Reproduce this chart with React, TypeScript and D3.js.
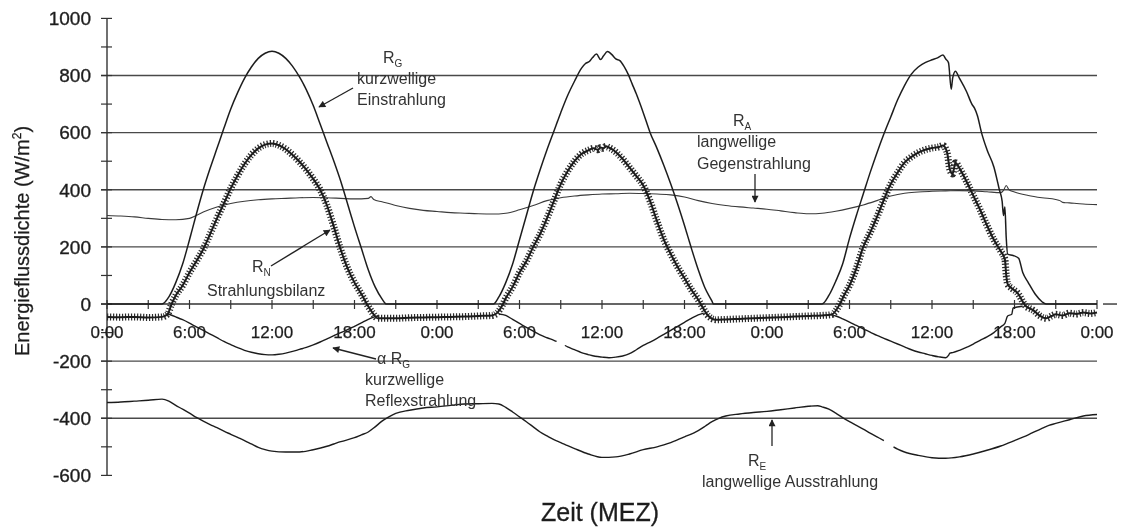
import React from 'react';
import * as d3 from 'd3';

type Pt = [number, number | null];

// hours since start (3 days), values in W/m²
const X_TICK_HOURS = [0, 6, 12, 18, 24, 30, 36, 42, 48, 54, 60, 66, 72];
const X_TICK_LABELS = ['0:00', '6:00', '12:00', '18:00', '0:00', '6:00', '12:00', '18:00', '0:00', '6:00', '12:00', '18:00', '0:00'];
const Y_TICK_VALUES = [1000, 800, 600, 400, 200, 0, -200, -400, -600];
const GRID_VALUES = [800, 600, 400, 200, -200, -400];

// R_G kurzwellige Einstrahlung
const RG: Pt[] = [
  [0, 0], [4, 0], [4.5, 25], [5, 75], [5.5, 140], [6, 225], [6.5, 315], [7, 400], [7.5, 475], [8, 545], [8.5, 615],
  [9, 683], [9.5, 740], [10, 790], [10.5, 830], [11, 860], [11.5, 878], [12, 885], [12.5, 878], [13, 860], [13.5, 832],
  [14, 795], [14.5, 750], [15, 695], [15.5, 630], [16, 565], [16.5, 500], [17, 430], [17.5, 350], [18, 270], [18.5, 195],
  [19, 120], [19.5, 60], [20, 18], [20.3, 0],
  [28.1, 0], [28.5, 25], [29, 75], [29.5, 140], [30, 225], [30.5, 310], [31, 395], [31.5, 470], [32, 540], [32.5, 605],
  [33, 670], [33.5, 730], [34, 780], [34.5, 825], [34.8, 842], [35.1, 850], [35.3, 862], [35.6, 875], [35.9, 856],
  [36.1, 868], [36.4, 884], [36.7, 874], [37, 858], [37.3, 852], [37.6, 832], [37.9, 805], [38.2, 770], [38.5, 735],
  [39, 670], [39.5, 600], [40, 545], [40.5, 485], [41, 420], [41.5, 350], [42, 275], [42.5, 195], [43, 120], [43.5, 55],
  [44, 10], [44.1, 0],
  [52, 0], [52.5, 30], [53, 80], [53.5, 140], [54, 230], [54.5, 310], [55, 385], [55.5, 460], [56, 530], [56.5, 595],
  [57, 655], [57.5, 715], [58, 765], [58.5, 805], [59, 830], [59.5, 845], [60, 855], [60.4, 862], [60.8, 872], [61, 858],
  [61.2, 845], [61.4, 752], [61.5, 790], [61.7, 815], [62, 790], [62.5, 745], [62.9, 700], [63.1, 685], [63.3, 660],
  [63.6, 600], [64, 540], [64.5, 480], [64.9, 400], [65.1, 360], [65.2, 310], [65.3, 340], [65.4, 230], [65.5, 175],
  [65.9, 170], [66.3, 160], [66.6, 110], [67, 75], [67.5, 35], [68, 8], [68.3, 0], [72, 0],
];

// R_N Strahlungsbilanz
const RN: Pt[] = [
  [0, -45], [1, -46], [2, -45], [3, -47], [4, -45], [4.4, -36], [4.7, 0], [5, 30], [5.5, 65], [6, 110], [6.5, 150],
  [7, 192], [7.5, 245], [8, 300], [8.5, 352], [9, 405], [9.5, 450], [10, 490], [10.5, 522], [11, 545], [11.5, 558],
  [12, 562], [12.5, 556], [13, 542], [13.5, 522], [14, 498], [14.5, 470], [15, 438], [15.5, 400], [16, 345], [16.5, 270],
  [17, 190], [17.5, 125], [18, 75], [18.5, 35], [18.9, 0], [19.3, -30], [19.7, -50],
  [21, -50], [22, -48], [23, -47], [24, -46], [25, -45], [26, -44], [27, -42], [28, -40], [28.4, -30], [28.8, 0],
  [29, 20], [29.5, 60], [30, 110], [30.5, 150], [31, 200], [31.5, 245], [32, 300], [32.5, 360], [33, 420], [33.5, 465],
  [34, 500], [34.5, 525], [35, 538], [35.4, 545], [35.7, 540], [35.9, 548], [36.1, 545], [36.3, 552], [36.5, 548],
  [36.8, 540], [37.1, 528], [37.5, 508], [38, 478], [38.5, 448], [39, 415], [39.5, 360], [40, 290], [40.5, 225],
  [41, 175], [41.5, 130], [42, 90], [42.5, 50], [43, 15], [43.3, -10], [43.7, -40], [44.3, -55],
  [45, -54], [46, -52], [47, -50], [48, -48], [49, -46], [50, -44], [51, -42], [52, -40], [52.7, -37], [53.3, 0],
  [53.6, 30], [54, 65], [54.5, 125], [55, 200], [55.5, 250], [56, 305], [56.5, 365], [56.8, 400], [57, 420], [57.5, 460],
  [58, 495], [58.5, 515], [59, 530], [59.5, 540], [60, 546], [60.5, 550], [60.8, 555], [61.1, 530], [61.3, 470],
  [61.5, 455], [61.7, 495], [62, 475], [62.5, 430], [63, 380], [63.5, 330], [64, 275], [64.5, 225], [65, 185],
  [65.3, 157], [65.4, 100], [65.5, 70], [65.8, 55], [66.2, 40], [66.8, -6], [67.4, -23], [67.8, -40], [68.3, -50],
  [68.7, -42], [69, -36], [69.5, -40], [70, -32], [70.5, -35], [71, -30], [71.5, -33], [72, -30],
];

// R_A langwellige Gegenstrahlung
const RA: Pt[] = [
  [0, 310], [1, 308], [2, 305], [3, 300], [4, 296], [5, 295], [6, 300], [6.5, 310], [7, 322], [8, 340], [9, 352],
  [10, 360], [11, 365], [12, 368], [13, 370], [14, 372], [15, 373], [16, 372], [17, 370], [18, 368], [19, 370],
  [19.2, 376], [19.4, 366], [20, 358], [21, 345], [22, 335], [23, 328], [24, 324], [25, 320], [26, 318], [27, 316],
  [28, 315], [29, 318], [30, 330], [31, 345], [32, 362], [33, 372], [34, 378], [35, 382], [36, 385], [37, 386],
  [38, 388], [39, 387], [40, 385], [41, 382], [42, 375], [43, 362], [44, 352], [45, 345], [46, 340], [47, 336],
  [48, 332], [49, 326], [50, 320], [51, 316], [52, 318], [53, 325], [54, 335], [55, 347], [56, 362], [57, 378],
  [58, 388], [59, 392], [60, 395], [61, 396], [62, 397], [63, 396], [64, 393], [65, 390], [65.2, 398], [65.4, 415],
  [65.6, 400], [66, 392], [67, 380], [68, 372], [69, 366], [69.3, 362], [69.5, 356], [70, 354], [71, 350], [72, 348],
];

// αR_G kurzwellige Reflexstrahlung
const ARG: Pt[] = [
  [4.4, -34], [5, -45], [5.5, -55], [6, -67], [6.5, -80], [7, -92], [7.5, -105], [8, -118], [8.5, -131], [9, -142],
  [9.5, -153], [10, -162], [10.5, -169], [11, -174], [11.5, -177], [12, -178], [12.5, -176], [13, -172], [13.5, -166],
  [14, -159], [14.5, -152], [15, -143], [15.5, -133], [16, -122], [16.5, -111], [17, -100], [17.5, -90], [18, -78],
  [18.5, -66], [19, -54], [19.5, -44], [19.8, -42],
  [24, null],
  [28.5, -35], [29, -40], [29.5, -54], [30, -68], [30.5, -82], [31, -95], [31.5, -108], [32, -118], [32.5, -127],
  [32.7, -131], [33, null], [33.3, -145], [33.5, -150], [34, -160], [34.5, -170], [35, -177], [35.5, -183], [36, -186],
  [36.5, -188], [37, -186], [37.5, -182], [38, -174], [38.5, -160], [39, -145], [39.5, -133], [40, -120], [40.5, -106],
  [41, -92], [41.5, -78], [42, -64], [42.5, -50], [43, -38], [43.4, -32],
  [48, null],
  [52.7, -38], [53, -42], [53.5, -52], [54, -63], [54.5, -75], [55, -87], [55.5, -98], [56, -110], [56.5, -120],
  [57, -130], [57.5, -140], [58, -150], [58.5, -160], [59, -168], [59.5, -174], [60, -180], [60.5, -185], [61, -188],
  [61.2, -180], [61.3, -172], [61.5, -170], [62, -162], [62.5, -152], [63, -140], [63.5, -127], [64, -115], [64.5, -100],
  [65, -80], [65.3, -68], [65.5, -42], [65.8, -36], [65.9, -14], [66.6, -8],
];

// R_E langwellige Ausstrahlung
const RE: Pt[] = [
  [0, -345], [1, -343], [2, -340], [3, -337], [4, -333], [4.5, -340], [5, -355], [5.5, -368], [6, -382], [6.5, -397],
  [7, -410], [7.5, -422], [8, -433], [8.5, -445], [9, -456], [9.5, -467], [10, -478], [10.5, -490], [11, -502],
  [11.5, -510], [12, -515], [13, -518], [14, -518], [15, -510], [16, -498], [16.5, -490], [17, -482], [18, -468],
  [18.5, -458], [19, -448], [19.5, -430], [20, -410], [20.5, -395], [21, -383], [22, -372], [23, -364], [24, -360],
  [25, -355], [26, -350], [27, -349], [28, -348], [28.5, -350], [29, -362], [29.5, -378], [30, -395], [30.5, -412],
  [31, -430], [31.5, -448], [32, -462], [32.5, -475], [33, -485], [33.5, -496], [34, -506], [35, -525], [36, -537],
  [37, -535], [38, -525], [39, -510], [40, -500], [40.5, -493], [41, -485], [42, -465], [43, -443], [43.5, -428],
  [44, -412], [44.5, -400], [45, -392], [46, -385], [47, -380], [48, -376], [49, -370], [50, -364], [51, -358],
  [51.7, -356], [52, -360], [52.5, -368], [53, -382], [53.5, -398], [54, -412], [54.5, -425], [55, -438], [55.5, -452],
  [56, -465], [56.5, -478], [56.9, null], [57.2, -500], [57.5, -508], [58, -518], [59, -530], [60, -538], [61, -540],
  [62, -535], [63, -525], [64, -512], [65, -497], [66, -478], [67, -458], [68, -435], [68.5, -425], [69, -418],
  [70, -405], [71, -392], [72, -387],
];

const W = 1123;
const H = 527;
const FONT = '"Liberation Sans", Arial, Helvetica, sans-serif';
const INK = '#1e1e1e';

const x = d3.scaleLinear().domain([0, 72]).range([107, 1097]);
const y = d3.scaleLinear().domain([-600, 1000]).range([475.4, 18.4]);

const line = d3
  .line<Pt>()
  .defined((d) => d[1] !== null)
  .x((d) => x(d[0]))
  .y((d) => y(d[1] as number))
  .curve(d3.curveMonotoneX);

const Sub = ({ base, sub, px, py, pre }: { base: string; sub: string; px: number; py: number; pre?: string }) => (
  <text x={px} y={py} fontSize={16} fill="#333">
    {pre}
    {base}
    <tspan fontSize={10} dy={4}>{sub}</tspan>
  </text>
);

const Arrow = ({ x1, y1, x2, y2 }: { x1: number; y1: number; x2: number; y2: number }) => (
  <line x1={x1} y1={y1} x2={x2} y2={y2} stroke="#222" strokeWidth={1.3} markerEnd="url(#head)" />
);

export default function App() {
  const zeroY = y(0);
  return (
    <svg width={W} height={H} style={{ position: 'absolute', left: 0, top: 0, background: '#fff' }} fontFamily={FONT}>
      <defs>
        <marker id="head" viewBox="0 0 10 10" refX="9" refY="5" markerWidth="8" markerHeight="7" orient="auto" markerUnits="userSpaceOnUse">
          <path d="M0,0 L10,5 L0,10 z" fill="#222" />
        </marker>
        <filter id="soft" x="-2%" y="-2%" width="104%" height="104%">
          <feGaussianBlur stdDeviation="0.45" />
        </filter>
      </defs>

      <g filter="url(#soft)">
        {/* gridlines */}
        {GRID_VALUES.map((v) => (
          <line key={v} x1={x(0) - 6} x2={x(72)} y1={y(v)} y2={y(v)} stroke="#4a4a4a" strokeWidth={1.4} />
        ))}

        {/* y axis */}
        <line x1={x(0)} x2={x(0)} y1={y(1000)} y2={y(-600)} stroke="#333" strokeWidth={1.4} />
        {d3.range(-600, 1001, 100).map((v) => (
          <line key={v} x1={x(0) - 6} x2={x(0) + 5} y1={y(v)} y2={y(v)} stroke="#333" strokeWidth={1.2} />
        ))}
        {Y_TICK_VALUES.map((v) => (
          <text key={v} x={91} y={y(v)} dy="0.36em" textAnchor="end" fontSize={19} fill={INK} stroke={INK} strokeWidth={0.35}>
            {v}
          </text>
        ))}

        {/* zero line with time ticks */}
        <line x1={x(0) - 6} x2={x(72)} y1={zeroY} y2={zeroY} stroke="#333" strokeWidth={1.4} />
        <line x1={x(72) + 6} x2={x(72) + 20} y1={zeroY} y2={zeroY} stroke="#333" strokeWidth={1.4} />
        {d3.range(0, 73, 3).map((h) => (
          <line key={h} x1={x(h)} x2={x(h)} y1={zeroY - 4} y2={zeroY + 5} stroke="#333" strokeWidth={1.2} />
        ))}
        {X_TICK_HOURS.map((h, i) => (
          <text key={h} x={x(h)} y={zeroY + 34} textAnchor="middle" fontSize={17} fill={INK} stroke={INK} strokeWidth={0.25}>
            {X_TICK_LABELS[i]}
          </text>
        ))}

        {/* series */}
        <path d={line(RA) ?? ''} fill="none" stroke="#3a3a3a" strokeWidth={1.1} />
        <path d={line(RE) ?? ''} fill="none" stroke={INK} strokeWidth={1.4} />
        <path d={line(ARG) ?? ''} fill="none" stroke={INK} strokeWidth={1.4} />
        <path d={line(RG) ?? ''} fill="none" stroke={INK} strokeWidth={1.5} />
        <path d={line(RN) ?? ''} fill="none" stroke="#2a2a2a" strokeWidth={7} strokeDasharray="1.2 1.8" />
        <path d={line(RN) ?? ''} fill="none" stroke={INK} strokeWidth={2} />

        {/* annotations */}
        <Sub base="R" sub="G" px={383} py={63} />
        <text x={357} y={84} fontSize={16} fill="#333">kurzwellige</text>
        <text x={357} y={105} fontSize={16} fill="#333">Einstrahlung</text>
        <Arrow x1={353} y1={88} x2={319} y2={107} />

        <Sub base="R" sub="N" px={252} py={272} />
        <text x={207} y={296} fontSize={16} fill="#333">Strahlungsbilanz</text>
        <Arrow x1={271} y1={266} x2={330} y2={230} />

        <Sub base="R" sub="A" px={733} py={126} />
        <text x={697} y={147} fontSize={16} fill="#333">langwellige</text>
        <text x={697} y={169} fontSize={16} fill="#333">Gegenstrahlung</text>
        <Arrow x1={755} y1={174} x2={755} y2={202} />

        <Sub pre={'\u03b1 '} base="R" sub="G" px={377} py={364} />
        <text x={365} y={385} fontSize={16} fill="#333">kurzwellige</text>
        <text x={365} y={406} fontSize={16} fill="#333">Reflexstrahlung</text>
        <Arrow x1={376} y1={359} x2={333} y2={348} />

        <Sub base="R" sub="E" px={748} py={466} />
        <text x={702} y={487} fontSize={16} fill="#333">langwellige Ausstrahlung</text>
        <Arrow x1={772} y1={446} x2={772} y2={420} />

        {/* axis titles */}
        <text x={600} y={521} textAnchor="middle" fontSize={25} fill={INK} stroke={INK} strokeWidth={0.3}>Zeit (MEZ)</text>
        <text transform="translate(29,241) rotate(-90)" textAnchor="middle" fontSize={20} fill={INK} stroke={INK} strokeWidth={0.25}>
          Energieflussdichte (W/m<tspan fontSize={12} dy={-8}>2</tspan>
          <tspan dy={8}>)</tspan>
        </text>
      </g>
    </svg>
  );
}
